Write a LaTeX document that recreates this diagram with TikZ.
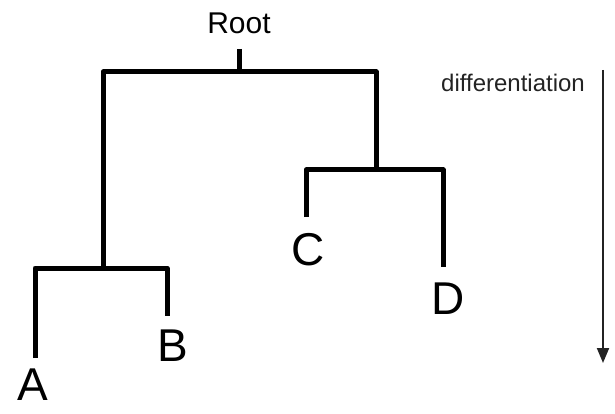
\documentclass[tikz,border=0pt]{standalone}
\usepackage{fontspec}
\setmainfont{Liberation Sans}
\usepackage{xcolor}
\usepackage{tikz}
\usetikzlibrary{arrows.meta,positioning}
\definecolor{treeblack}{RGB}{0,0,0}
\definecolor{labelgrey}{RGB}{35,35,35}
\tikzset{
  branch/.style={line width=5pt,draw=treeblack,line join=round},
  leaflabel/.style={inner sep=0pt,font=\fontsize{46pt}{48pt}\selectfont},
  rootlabel/.style={inner sep=0pt,font=\fontsize{30pt}{32pt}\selectfont},
  axislabel/.style={inner sep=0pt,text=labelgrey,
    font=\fontsize{24pt}{26pt}\selectfont},
  timeline/.style={-{Triangle[length=15pt,width=12pt]},line width=2pt,
    draw=labelgrey}
}

\begin{document}
\begin{tikzpicture}[x=1pt,y=-1pt,node distance=14pt]
  \useasboundingbox (0,0) rectangle (615,414);
  % junctions and branch tips
  \coordinate (stemtop) at (239,49);
  \coordinate (top) at (239,72);
  \coordinate (ab) at (103,268);
  \coordinate (cd) at (376,170);
  \coordinate (atip) at (35,358);
  \coordinate (btip) at (167,316);
  \coordinate (ctip) at (306,217);
  \coordinate (dtip) at (443,267);
  \draw[branch] (stemtop) -- (top);
  \draw[branch] (ab) |- (top) -| (cd);
  \draw[branch] (atip) |- (ab) -| (btip);
  \draw[branch] (ctip) |- (cd) -| (dtip);
  \node[rootlabel,above=15pt of stemtop] (root) {Root};
  \node[leaflabel,below=11pt of atip,xshift=-2pt] (a) {A};
  \node[leaflabel,below=14pt of btip,xshift=6pt] (b) {B};
  \node[leaflabel,below=16pt of ctip,xshift=2pt] (c) {C};
  \node[leaflabel,below=16pt of dtip,xshift=5pt] (d) {D};
  % differentiation axis
  \coordinate (axtop) at (603,70);
  \coordinate (axbot) at (603,363);
  \draw[timeline] (axtop) -- (axbot);
  \node[axislabel] (diff) at (513,83) {differentiation};
\end{tikzpicture}
\end{document}
